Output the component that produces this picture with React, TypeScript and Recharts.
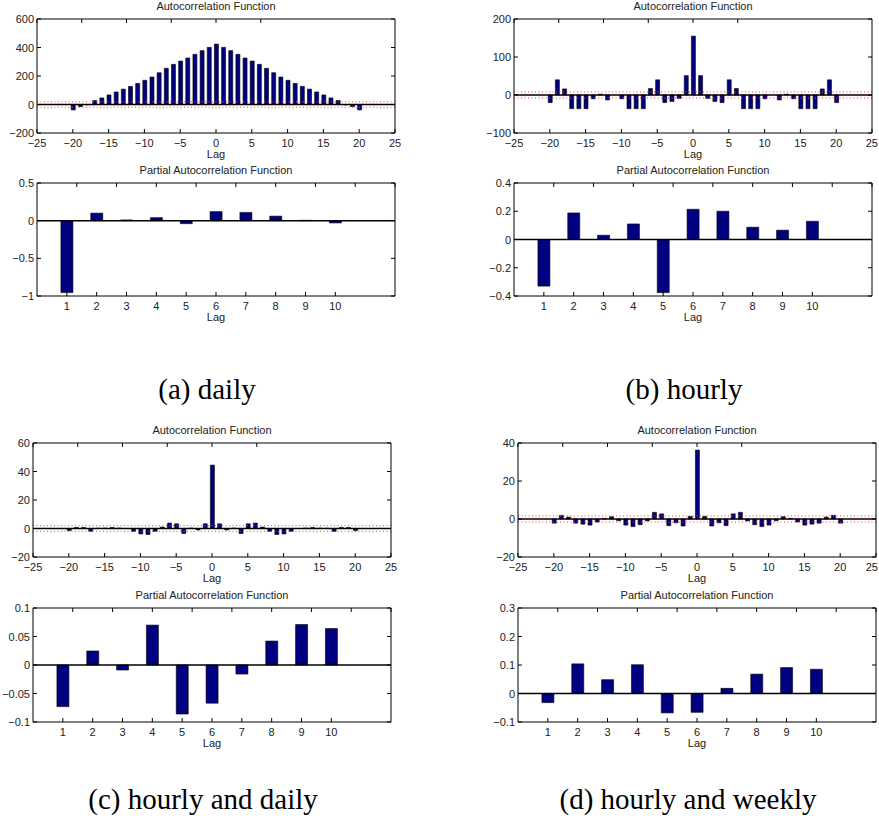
import React from "react";
import { BarChart, Bar, XAxis, YAxis, ReferenceLine } from "recharts";

// lags
const ACF_LAGS = [-20, -19, -18, -17, -16, -15, -14, -13, -12, -11, -10, -9, -8, -7, -6, -5, -4, -3, -2, -1, 0, 1, 2, 3, 4, 5, 6, 7, 8, 9, 10, 11, 12, 13, 14, 15, 16, 17, 18, 19, 20];
const PACF_LAGS = [1, 2, 3, 4, 5, 6, 7, 8, 9, 10];

// autocorrelation
const ACF_DAILY = [-38, -15, -3, 28, 46, 67, 88, 108, 127, 148, 170, 193, 223, 254, 282, 305, 326, 352, 378, 401, 424, 401, 378, 352, 326, 305, 282, 254, 223, 193, 170, 148, 127, 108, 88, 67, 46, 28, -3, -15, -38];
const ACF_HOURLY = [-20, 40, 16, -36, -36, -36, -10, 2, -13, 0, -10, -36, -36, -36, 17, 40, -20, -17, -9, 51, 155, 51, -9, -17, -20, 40, 17, -36, -36, -36, -10, 0, -13, 2, -10, -36, -36, -36, 16, 40, -20];
const ACF_HOURLY_DAILY = [-1.5, 0.7, 0.7, -2, 0.2, 0.3, 0.7, 0.3, 0, -2, -3.8, -4.2, -2, 1, 3.8, 3.3, -3.5, 0.3, -1, 3.3, 44.5, 3.3, -1, 0.3, -3.5, 3.3, 3.8, 1, -2, -4.2, -3.8, -2, 0, 0.3, 0.7, 0.3, 0.2, -2, 0.7, 0.7, -1.5];
const ACF_HOURLY_WEEKLY = [-2.2, 1.9, 1, -2.2, -2.7, -3.2, -1.6, 0.3, 1.2, -0.9, -3.2, -4, -3, -1, 3.5, 2.7, -3.5, -2, -3.7, 1.4, 36.3, 1.4, -3.7, -2, -3.5, 2.7, 3.5, -1, -3, -4, -3.2, -0.9, 1.2, 0.3, -1.6, -3.2, -2.7, -2.2, 1, 1.9, -2.2];

// partial autocorrelation
const PACF_DAILY = [-0.955, 0.1, 0.01, 0.04, -0.04, 0.12, 0.11, 0.06, 0.005, -0.03];
const PACF_HOURLY = [-0.33, 0.188, 0.03, 0.11, -0.376, 0.214, 0.2, 0.087, 0.066, 0.129];
const PACF_HOURLY_DAILY = [-0.073, 0.0246, -0.0088, 0.07, -0.086, -0.067, -0.016, 0.042, 0.071, 0.064];
const PACF_HOURLY_WEEKLY = [-0.032, 0.104, 0.0485, 0.101, -0.068, -0.066, 0.018, 0.068, 0.091, 0.085];

// confidence bounds (red dotted)
const CONF = [19, 8, 2, 1.6];

// ticks
const ACF_X_TICKS = [-25, -20, -15, -10, -5, 0, 5, 10, 15, 20, 25];
const PACF_X_TICKS = [1, 2, 3, 4, 5, 6, 7, 8, 9, 10];
const ACF_Y_TICKS = [
  [-200, 0, 200, 400, 600],
  [-100, 0, 100, 200],
  [-20, 0, 20, 40, 60],
  [-20, 0, 20, 40],
];
const PACF_Y_TICKS = [
  [-1, -0.5, 0, 0.5],
  [-0.4, -0.2, 0, 0.2, 0.4],
  [-0.1, -0.05, 0, 0.05, 0.1],
  [-0.1, 0, 0.1, 0.2, 0.3],
];

const CAPTIONS = ["(a) daily", "(b) hourly", "(c) hourly and daily", "(d) hourly and weekly"];

const ACF_SERIES = [ACF_DAILY, ACF_HOURLY, ACF_HOURLY_DAILY, ACF_HOURLY_WEEKLY];
const PACF_SERIES = [PACF_DAILY, PACF_HOURLY, PACF_HOURLY_DAILY, PACF_HOURLY_WEEKLY];

// page layout of each panel (plot box corners, caption anchor)
const LAYOUT = [
  { x: 37, acfTop: 19, pacfTop: 183, pacfH: 113, capX: 207, capY: 399 },
  { x: 514, acfTop: 19, pacfTop: 183, pacfH: 113, capX: 684, capY: 399 },
  { x: 33, acfTop: 443, pacfTop: 608, pacfH: 114, capX: 203, capY: 809 },
  { x: 518, acfTop: 443, pacfTop: 608, pacfH: 114, capX: 688, capY: 809 },
];

const PAGE_W = 879;
const FONT = "'Liberation Sans', Arial, Helvetica, sans-serif";
const SERIF = "'Liberation Serif', 'Times New Roman', Times, serif";
const TXT = "#222";
const TICK = 4;

const fmt = (v: number) => (v < 0 ? "\u2212" + String(-v) : String(v));

function BottomTick({ x, y, payload, limit }: any) {
  const label = fmt(payload.value);
  const half = label.length * 3.1;
  // keep the last label inside the page
  const over = x + half > limit;
  return (
    <g>
      <line x1={x} x2={x} y1={y} y2={y - TICK} stroke="#000" />
      <text
        x={over ? limit : x}
        y={y + 14}
        textAnchor={over ? "end" : "middle"}
        fontSize={11}
        fontFamily={FONT}
        fill={TXT}
      >
        {label}
      </text>
    </g>
  );
}

function TopTick({ x, y }: any) {
  return <line x1={x} x2={x} y1={y} y2={y + TICK} stroke="#000" />;
}

function LeftTick({ x, y, payload }: any) {
  return (
    <g>
      <line x1={x} x2={x + TICK} y1={y} y2={y} stroke="#000" />
      <text x={x - 3} y={y + 4} textAnchor="end" fontSize={11} fontFamily={FONT} fill={TXT}>
        {fmt(payload.value)}
      </text>
    </g>
  );
}

function RightTick({ x, y }: any) {
  return <line x1={x} x2={x - TICK} y1={y} y2={y} stroke="#000" />;
}

interface PlotProps {
  left: number;
  top: number;
  h: number;
  title: string;
  lags: number[];
  values: number[];
  xDomain: [number, number];
  xTicks: number[];
  yTicks: number[];
  barSize: number;
  conf?: number;
}

function Plot({ left, top, h, title, lags, values, xDomain, xTicks, yTicks, barSize, conf }: PlotProps) {
  const W = 358, L = 44, R = 12, T = 26, B = 42;
  const data = lags.map((lag, i) => ({ lag, v: values[i] }));
  const yDomain: [number, number] = [yTicks[0], yTicks[yTicks.length - 1]];
  const limit = PAGE_W - (left - L) - 1;
  return (
    <div style={{ position: "absolute", left: left - L, top: top - T }}>
      <BarChart width={L + W + R} height={T + h + B} data={data} margin={{ top: 0, right: 0, bottom: 0, left: 0 }}>
        <XAxis
          xAxisId="b"
          dataKey="lag"
          type="number"
          domain={xDomain}
          ticks={xTicks}
          allowDataOverflow
          interval={0}
          tickSize={0}
          tickMargin={0}
          height={B}
          axisLine={{ stroke: "#000" }}
          tickLine={false}
          tick={(p: any) => <BottomTick {...p} limit={limit} />}
          label={{ value: "Lag", position: "insideTop", offset: 17, fontSize: 11, fontFamily: FONT, fill: TXT }}
        />
        <XAxis
          xAxisId="t"
          orientation="top"
          type="number"
          domain={xDomain}
          ticks={xTicks}
          allowDataOverflow
          interval={0}
          tickSize={0}
          tickMargin={0}
          height={T}
          axisLine={{ stroke: "#000" }}
          tickLine={false}
          tick={(p: any) => <TopTick {...p} />}
          label={{ value: title, position: "insideTop", offset: T - 17, fontSize: 11, fontFamily: FONT, fill: TXT }}
        />
        <YAxis
          yAxisId="l"
          type="number"
          domain={yDomain}
          ticks={yTicks}
          allowDataOverflow
          interval={0}
          tickSize={0}
          tickMargin={0}
          width={L}
          axisLine={{ stroke: "#000" }}
          tickLine={false}
          tick={(p: any) => <LeftTick {...p} />}
        />
        <YAxis
          yAxisId="r"
          orientation="right"
          type="number"
          domain={yDomain}
          ticks={yTicks}
          allowDataOverflow
          interval={0}
          tickSize={0}
          tickMargin={0}
          width={R}
          axisLine={{ stroke: "#000" }}
          tickLine={false}
          tick={(p: any) => <RightTick {...p} />}
        />
        <Bar xAxisId="b" yAxisId="l" dataKey="v" barSize={barSize} fill="#000080" stroke="#000" strokeWidth={0.6} isAnimationActive={false} />
        {conf != null && (
          <ReferenceLine xAxisId="b" yAxisId="l" y={conf} stroke="#ff3b3b" strokeWidth={1} strokeDasharray="1 2.5" />
        )}
        {conf != null && (
          <ReferenceLine xAxisId="b" yAxisId="l" y={-conf} stroke="#ff3b3b" strokeWidth={1} strokeDasharray="1 2.5" />
        )}
        <ReferenceLine xAxisId="b" yAxisId="l" y={0} stroke="#000" strokeWidth={1.5} />
      </BarChart>
    </div>
  );
}

export default function App() {
  return (
    <div style={{ position: "absolute", left: 0, top: 0, width: PAGE_W, height: 834, overflow: "hidden", background: "#fff" }}>
      {LAYOUT.map((p, i) => (
        <React.Fragment key={i}>
          <Plot
            left={p.x}
            top={p.acfTop}
            h={114}
            title="Autocorrelation Function"
            lags={ACF_LAGS}
            values={ACF_SERIES[i]}
            xDomain={[-25, 25]}
            xTicks={ACF_X_TICKS}
            yTicks={ACF_Y_TICKS[i]}
            barSize={4}
            conf={CONF[i]}
          />
          <Plot
            left={p.x}
            top={p.pacfTop}
            h={p.pacfH}
            title="Partial Autocorrelation Function"
            lags={PACF_LAGS}
            values={PACF_SERIES[i]}
            xDomain={[0, 12]}
            xTicks={PACF_X_TICKS}
            yTicks={PACF_Y_TICKS[i]}
            barSize={12}
          />
        </React.Fragment>
      ))}
      <svg width={PAGE_W} height={834} style={{ position: "absolute", left: 0, top: 0, pointerEvents: "none" }}>
        {LAYOUT.map((p, i) => (
          <text key={i} x={p.capX} y={p.capY} textAnchor="middle" fontSize={29} fontFamily={SERIF} fill="#000">
            {CAPTIONS[i]}
          </text>
        ))}
      </svg>
    </div>
  );
}
